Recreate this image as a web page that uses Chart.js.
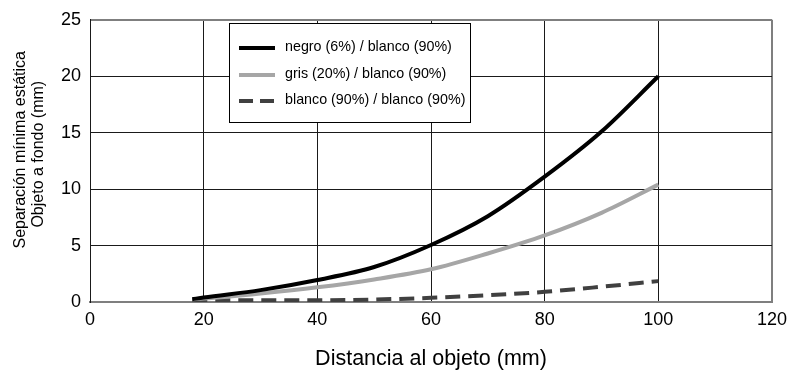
<!DOCTYPE html>
<html>
<head>
<meta charset="utf-8">
<script src="https://cdn.jsdelivr.net/npm/chart.js@4"></script>
<style>
  html, body { margin: 0; padding: 0; background: #fff; }
  #wrap { width: 789px; height: 381px; }
</style>
</head>
<body>
<div id="wrap"><canvas id="chart" width="789" height="381"></canvas></div>
<script>
// Distance to object (mm)
const distances = [18, 20, 30, 40, 50, 60, 70, 80, 90, 100];
// Minimum static separation, object to background (mm)
const negroValues = [0.25, 0.4, 1.05, 1.95, 3.1, 5.05, 7.6, 11.1, 15.1, 20.0];
const grisValues = [0.25, 0.3, 0.75, 1.3, 2.0, 2.9, 4.3, 5.9, 7.9, 10.4];
const blancoValues = [0.15, 0.15, 0.15, 0.15, 0.22, 0.37, 0.6, 0.9, 1.35, 1.85];
const seriesLabels = ['negro (6%) / blanco (90%)', 'gris (20%) / blanco (90%)', 'blanco (90%) / blanco (90%)'];
const xTicks = [0, 20, 40, 60, 80, 100, 120];
const yTicks = [0, 5, 10, 15, 20, 25];

const FONT = '"Liberation Sans Narrow", "Liberation Sans", Arial, sans-serif';
const FRAME = '#7f7f7f';
const GRID = '#1a1a1a';

const toPoints = (vals) => distances.map((d, i) => ({ x: d, y: vals[i] }));

// legend box drawn inside the plot
const boxLegend = {
  id: 'boxLegend',
  afterDraw(chart) {
    const ctx = chart.ctx;
    const x0 = 229, y0 = 23, w = 241, h = 99;
    ctx.save();
    ctx.fillStyle = '#fff';
    ctx.fillRect(x0, y0, w, h);
    ctx.strokeStyle = '#000';
    ctx.lineWidth = 1;
    ctx.strokeRect(x0 + 0.5, y0 + 0.5, w, h);
    const rows = [48, 75, 101];
    chart.data.datasets.forEach((ds, i) => {
      ctx.beginPath();
      ctx.strokeStyle = ds.borderColor;
      ctx.lineWidth = 4;
      ctx.setLineDash(ds.borderDash ? [14, 7] : []);
      ctx.moveTo(239, rows[i]);
      ctx.lineTo(275, rows[i]);
      ctx.stroke();
      ctx.setLineDash([]);
      ctx.fillStyle = '#000';
      ctx.font = '14.3px ' + FONT;
      ctx.textBaseline = 'middle';
      ctx.fillText(ds.label, 285, rows[i] - 1);
    });
    ctx.restore();
  }
};

new Chart(document.getElementById('chart'), {
  type: 'line',
  data: {
    datasets: [
      {
        label: seriesLabels[0],
        data: toPoints(negroValues),
        borderColor: '#000000',
        borderWidth: 4,
        pointRadius: 0,
        cubicInterpolationMode: 'monotone'
      },
      {
        label: seriesLabels[1],
        data: toPoints(grisValues),
        borderColor: '#a6a6a6',
        borderWidth: 4,
        pointRadius: 0,
        cubicInterpolationMode: 'monotone'
      },
      {
        label: seriesLabels[2],
        data: toPoints(blancoValues),
        borderColor: '#404040',
        borderWidth: 4,
        borderDash: [15, 8],
        pointRadius: 0,
        cubicInterpolationMode: 'monotone'
      }
    ]
  },
  options: {
    responsive: false,
    animation: false,
    layout: { padding: { top: 15, right: 17, left: 7, bottom: 0 } },
    plugins: {
      legend: { display: false },
      tooltip: { enabled: false }
    },
    scales: {
      x: {
        type: 'linear',
        min: 0,
        max: 120,
        afterBuildTicks: (scale) => { scale.ticks = xTicks.map(v => ({ value: v })); },
        afterFit: (scale) => {
          scale.height = 79;
          // don't let the "120" label push the plot edge inward
          scale.paddingLeft = 0;
          scale.paddingRight = 0;
        },
        grid: {
          color: (c) => (c.tick && c.tick.value === 120 ? FRAME : GRID),
          lineWidth: (c) => (c.tick && c.tick.value === 120 ? 2 : 1),
          drawTicks: false
        },
        border: { color: FRAME, width: 2 },
        ticks: {
          color: '#000',
          padding: 7,
          font: { family: FONT, size: 18 }
        },
        title: {
          display: true,
          text: 'Distancia al objeto (mm)',
          color: '#000',
          padding: { top: 0, bottom: 9 },
          font: { family: FONT, size: 21.5 }
        }
      },
      y: {
        min: 0,
        max: 25,
        afterBuildTicks: (scale) => { scale.ticks = yTicks.map(v => ({ value: v })); },
        afterFit: (scale) => { scale.width = 83; },
        grid: {
          color: (c) => (c.tick && c.tick.value === 25 ? FRAME : GRID),
          lineWidth: (c) => (c.tick && c.tick.value === 25 ? 2 : 1),
          drawTicks: false
        },
        border: { color: GRID, width: 1 },
        ticks: {
          color: '#000',
          padding: 9,
          font: { family: FONT, size: 18 }
        },
        title: {
          display: true,
          // leading spaces nudge the rotated lines upward like the original
          text: ['     Separación mínima estática', '   Objeto a fondo (mm)'],
          color: '#000',
          padding: { bottom: 2 },
          font: { family: FONT, size: 16, lineHeight: 1.15 }
        }
      }
    }
  },
  plugins: [boxLegend]
});
</script>
</body>
</html>
